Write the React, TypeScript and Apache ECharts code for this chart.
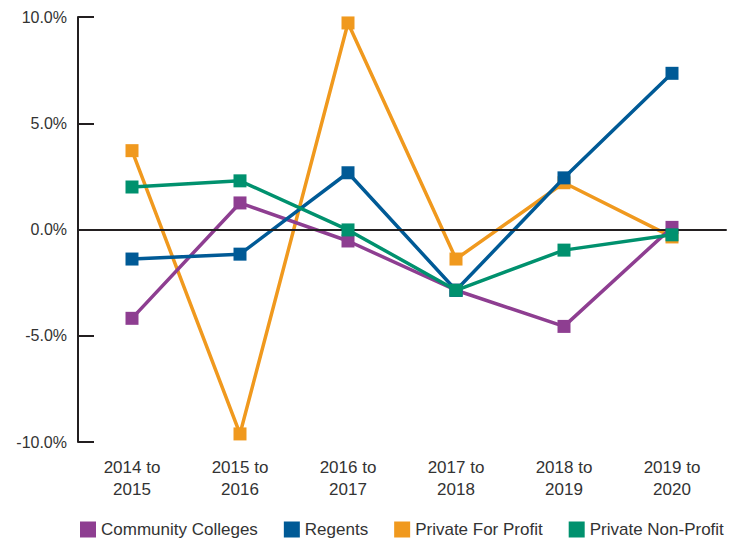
import React, { useEffect, useRef } from "react";
import * as echarts from "echarts";

const categories = ["2014 to\n2015", "2015 to\n2016", "2016 to\n2017", "2017 to\n2018", "2018 to\n2019", "2019 to\n2020"];
const communityColleges = [-4.18, 1.25, -0.54, -2.86, -4.56, 0.1];
const regents = [-1.39, -1.16, 2.67, -2.86, 2.43, 7.35];
const privateForProfit = [3.71, -9.62, 9.72, -1.39, 2.2, -0.35];
const privateNonProfit = [2.0, 2.29, -0.02, -2.86, -0.97, -0.25];
const yTicks = { min: -10, max: 10, interval: 5 };

const FONT = "Liberation Sans";
const TEXT = "#333333";
const AXIS = "#231f20";

export default function App() {
  const ref = useRef<HTMLDivElement>(null);
  useEffect(() => {
    if (!ref.current) return;
    const chart = echarts.init(ref.current, undefined, { renderer: "svg" });
    const mk = (name: string, data: number[], color: string, z: number) => ({
      name,
      type: "line",
      data,
      z,
      symbol: "rect",
      symbolSize: 13,
      lineStyle: { color, width: 3.5 },
      itemStyle: { color },
      emphasis: { disabled: true },
    });
    const series: any[] = [
      mk("Community Colleges", communityColleges, "#8e3e91", 3),
      mk("Regents", regents, "#005a96", 4),
      mk("Private For Profit", privateForProfit, "#f0991e", 2),
      mk("Private Non-Profit", privateNonProfit, "#00916e", 5),
    ];
    series[0].markLine = {
      silent: true,
      symbol: "none",
      label: { show: false },
      lineStyle: { color: AXIS, width: 2, type: "solid" },
      data: [{ yAxis: 0 }],
    };
    chart.setOption({
      animation: false,
      grid: { left: 78, right: 8, top: 17, bottom: 99 },
      legend: {
        bottom: 3,
        left: 80,
        padding: 0,
        itemWidth: 16,
        itemHeight: 16,
        itemGap: 26,
        icon: "rect",
        textStyle: { fontFamily: FONT, fontSize: 17, color: TEXT },
        data: ["Community Colleges", "Regents", "Private For Profit", "Private Non-Profit"],
      },
      xAxis: {
        type: "category",
        data: categories,
        boundaryGap: true,
        axisLine: { lineStyle: { color: AXIS, width: 2 } },
        axisTick: { inside: true, length: 14, alignWithLabel: true, lineStyle: { color: AXIS, width: 2 } },
        axisLabel: { fontFamily: FONT, fontSize: 17, color: TEXT, lineHeight: 22, margin: 14 },
      },
      yAxis: {
        type: "value",
        min: yTicks.min,
        max: yTicks.max,
        interval: yTicks.interval,
        axisLine: { show: true, lineStyle: { color: AXIS, width: 2 } },
        axisTick: { show: true, inside: true, length: 16, lineStyle: { color: AXIS, width: 2 } },
        splitLine: { show: false },
        axisLabel: {
          fontFamily: FONT,
          fontSize: 16,
          color: TEXT,
          margin: 11,
          formatter: (v: number) => v.toFixed(1) + "%",
        },
      },
      series,
    });
    return () => chart.dispose();
  }, []);
  return <div ref={ref} style={{ position: "absolute", left: 0, top: 0, width: 734, height: 541 }} />;
}
